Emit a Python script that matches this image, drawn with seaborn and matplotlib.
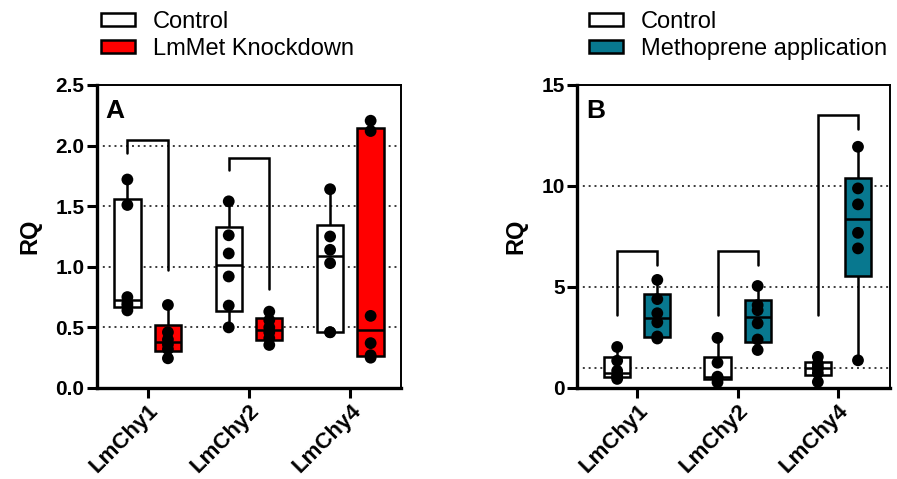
import numpy as np
import pandas as pd
import matplotlib
matplotlib.use("Agg")
import matplotlib.pyplot as plt
import matplotlib.cbook as cbook
from matplotlib.patches import Patch
import seaborn as sns

# ---- data -------------------------------------------------------------
genes = ["LmChy1", "LmChy2", "LmChy4"]

# Panel A: LmMet RNAi
a_groups = ["Control", "LmMet Knockdown"]
a_control = [
    [0.64, 0.68, 0.70, 0.75, 1.51, 1.72],
    [0.50, 0.68, 0.92, 1.11, 1.26, 1.54],
    [0.46, 0.46, 1.03, 1.14, 1.25, 1.64],
]
a_knockdown = [
    [0.245, 0.32, 0.36, 0.40, 0.46, 0.685],
    [0.355, 0.41, 0.46, 0.50, 0.56, 0.63],
    [0.25, 0.27, 0.37, 0.595, 2.12, 2.205],
]

# Panel B: methoprene treatment
b_groups = ["Control", "Methoprene application"]
b_control = [
    [0.45, 0.55, 0.62, 0.85, 1.35, 2.03],
    [0.28, 0.48, 0.52, 0.56, 1.25, 2.48],
    [0.30, 0.74, 0.95, 1.03, 1.20, 1.54],
]
b_methoprene = [
    [2.45, 2.55, 3.25, 3.70, 4.40, 5.35],
    [1.88, 2.40, 3.20, 3.85, 4.10, 5.05],
    [1.37, 6.91, 7.68, 9.09, 9.88, 11.94],
]

# comparison brackets: (left leg bottom, bar top, right leg bottom) per gene
a_brackets = {0: (1.94, 2.05, 0.97), 1: (1.80, 1.90, 0.82)}
b_brackets = {0: (3.6, 6.8, 6.1), 1: (3.6, 6.8, 6.1), 2: (3.6, 13.5, 12.8)}

a_yticks = [0.0, 0.5, 1.0, 1.5, 2.0, 2.5]
b_yticks = [0, 5, 10, 15]
a_grid = [0.5, 1.0, 1.5, 2.0]
b_grid = [1, 5, 10]

# ---- quartiles computed as (n+1)p percentiles --------------------------
_base_boxplot_stats = cbook.boxplot_stats


def hinge_boxplot_stats(X, whis=1.5, bootstrap=None, labels=None, autorange=False):
    stats = _base_boxplot_stats(X, whis=whis, bootstrap=bootstrap,
                                labels=labels, autorange=autorange)
    if isinstance(X, (list, tuple)):
        arrays = [np.asarray(x, float) for x in X]
    else:
        arr = np.asarray(X, float)
        arrays = [arr] if arr.ndim == 1 else list(arr.T)
    for s, x in zip(stats, arrays):
        if len(x):
            q1, q3 = np.percentile(x, [25, 75], method="weibull")
            s["q1"], s["q3"], s["iqr"] = q1, q3, q3 - q1
    return stats


cbook.boxplot_stats = hinge_boxplot_stats


def long_frame(groups, first, second):
    rows = []
    for g, vals in zip(genes, first):
        rows += [(g, groups[0], v) for v in vals]
    for g, vals in zip(genes, second):
        rows += [(g, groups[1], v) for v in vals]
    return pd.DataFrame(rows, columns=["gene", "group", "rq"])


df_a = long_frame(a_groups, a_control, a_knockdown)
df_b = long_frame(b_groups, b_control, b_methoprene)

# ---- style ------------------------------------------------------------
sns.set_style("white")
plt.rcParams["font.family"] = ["Liberation Sans", "DejaVu Sans"]
plt.rcParams["font.weight"] = "bold"
for key in ("text.color", "axes.labelcolor", "xtick.color", "ytick.color"):
    plt.rcParams[key] = "black"

RED = "#ff0000"
TEAL = "#08788f"

fig = plt.figure(figsize=(8.97, 4.79), dpi=100)
ax_a = fig.add_axes([0.1081, 0.19, 0.339, 0.6326])
ax_b = fig.add_axes([0.6433, 0.19, 0.349, 0.6326])


def draw_panel(ax, df, groups, colors, brackets, yticks, grid, ylim, xlim, letter, fmt):
    for y in grid:
        ax.axhline(y, color="#3a3a3a", lw=1.4, ls=(0, (1, 2)), zorder=0)
    palette = dict(zip(groups, colors))
    sns.boxplot(data=df, x="gene", y="rq", hue="group", order=genes,
                hue_order=groups, palette=palette, width=0.8, gap=0.35,
                whis=(0, 100), showfliers=False, showcaps=False,
                linecolor="black", linewidth=1.8, saturation=1,
                legend=False, ax=ax)
    sns.stripplot(data=df, x="gene", y="rq", hue="group", order=genes,
                  hue_order=groups, palette={g: "black" for g in groups},
                  dodge=True, jitter=False, size=8.5, linewidth=0,
                  legend=False, ax=ax, zorder=5)
    for i, (lo_left, top, lo_right) in brackets.items():
        xl, xr = i - 0.2, i + 0.2
        ax.plot([xl, xl, xr, xr], [lo_left, top, top, lo_right],
                color="black", lw=1.8, solid_joinstyle="miter", zorder=4)

    ax.set_xlim(*xlim)
    ax.set_ylim(*ylim)
    ax.set_yticks(yticks)
    ax.set_yticklabels([fmt.format(t) for t in yticks], fontsize=15, fontweight="bold")
    ax.set_xticks(range(len(genes)))
    ax.set_xticklabels(genes, fontsize=16, fontweight="bold", rotation=45,
                       ha="right", rotation_mode="anchor")
    ax.tick_params(axis="both", direction="out", length=7, width=2.2,
                   color="black", labelcolor="black", pad=2, left=True, bottom=True)
    ax.set_xlabel("")
    ax.set_ylabel("RQ", fontsize=17, fontweight="bold", labelpad=10, color="black")
    for side in ("left", "bottom"):
        ax.spines[side].set_linewidth(2.4)
        ax.spines[side].set_color("black")
    for side in ("top", "right"):
        ax.spines[side].set_linewidth(1.4)
        ax.spines[side].set_color("black")
    ax.text(0.028, 0.955, letter, transform=ax.transAxes, fontsize=19,
            fontweight="bold", va="top", ha="left", color="black")


draw_panel(ax_a, df_a, a_groups, ["white", RED], a_brackets, a_yticks, a_grid,
           (0, 2.5), (-0.5, 2.5), "A", "{:.1f}")
draw_panel(ax_b, df_b, b_groups, ["white", TEAL], b_brackets, b_yticks, b_grid,
           (0, 15), (-0.6, 2.52), "B", "{:d}")


def add_legend(x_anchor, groups, colors):
    handles = [Patch(facecolor=c, edgecolor="black", linewidth=1.8, label=g)
               for g, c in zip(groups, colors)]
    fig.legend(handles=handles, loc="upper left",
               bbox_to_anchor=(x_anchor, 0.977), frameon=False,
               prop={"size": 17, "weight": "normal"}, borderpad=0,
               borderaxespad=0, handlelength=1.45, handleheight=0.5,
               handletextpad=0.75, labelspacing=0.2, labelcolor="black")


add_legend(101 / 897, a_groups, ["white", RED])
add_legend(589 / 897, b_groups, ["white", TEAL])

fig.savefig("out.png", dpi=100)
